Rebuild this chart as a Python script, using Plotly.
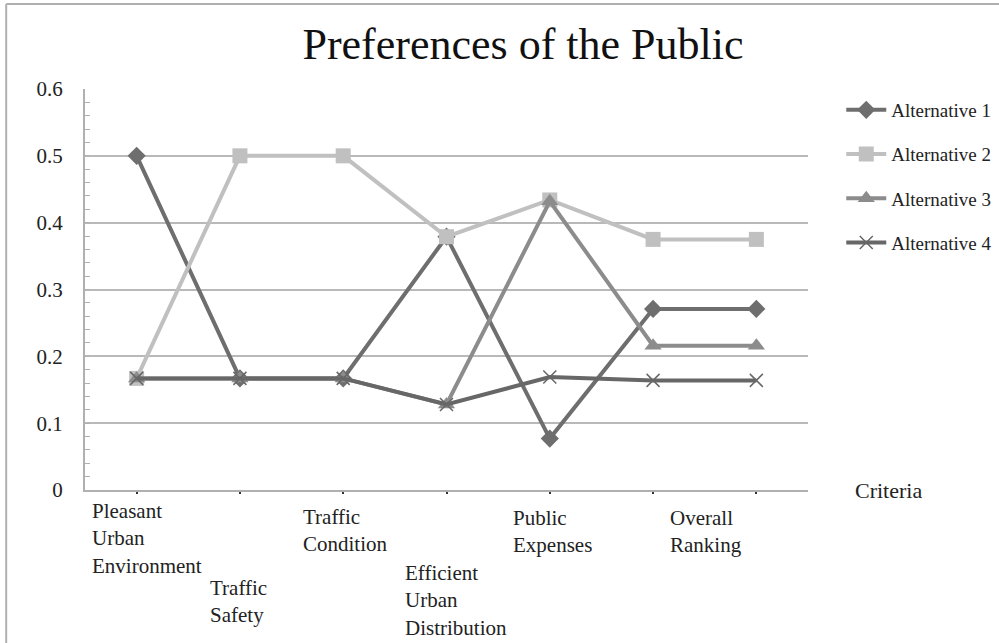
import plotly.graph_objects as go

# Criteria (x categories) and the score of each alternative per criterion
criteria = [
    "Pleasant<br>Urban<br>Environment",
    "Traffic<br>Safety",
    "Traffic<br>Condition",
    "Efficient<br>Urban<br>Distribution",
    "Public<br>Expenses",
    "Overall<br>Ranking",
    "",
]
alt1 = [0.500, 0.167, 0.167, 0.379, 0.077, 0.271, 0.271]
alt2 = [0.167, 0.500, 0.500, 0.379, 0.434, 0.375, 0.375]
alt3 = [0.167, 0.167, 0.167, 0.128, 0.432, 0.216, 0.216]
alt4 = [0.167, 0.167, 0.167, 0.128, 0.169, 0.164, 0.164]

y_ticks = [0, 0.1, 0.2, 0.3, 0.4, 0.5, 0.6]
y_tick_text = ["0", "0.1", "0.2", "0.3", "0.4", "0.5", "0.6"]

FONT = "Liberation Serif"
x_idx = list(range(len(criteria)))

series = [
    ("Alternative 1", alt1, "#6e6e6e", "diamond", 14, 0),
    ("Alternative 2", alt2, "#c0c0c0", "square", 15, 0),
    ("Alternative 3", alt3, "#8c8c8c", "triangle-up", 15, 0),
    ("Alternative 4", alt4, "#676767", "x-thin", 13, 1.5),
]

fig = go.Figure()
for i, (name, vals, color, symbol, size, lw) in enumerate(series):
    marker = dict(symbol=symbol, size=size, color=color)
    if symbol == "x-thin":
        marker["line"] = dict(color=color, width=lw)
    fig.add_trace(go.Scatter(
        x=x_idx, y=vals, name=name, mode="lines+markers",
        line=dict(color=color, width=4),
        marker=marker,
        legendgroup=f"g{i}",
    ))

# Category labels under the axis, staggered like the original layout
label_offsets = [(-47, -1), (-32, 76), (-42, 5), (-44, 61), (-39, 6), (15, 6), (0, 0)]
for i, (lab, (dx, dy)) in enumerate(zip(criteria, label_offsets)):
    if not lab:
        continue
    fig.add_annotation(
        x=i, y=0, xref="x", yref="y", text=lab, showarrow=False,
        xanchor="left", yanchor="top", align="left",
        xshift=dx, yshift=-8 - dy,
        font=dict(family=FONT, size=21, color="#222"),
    )

fig.add_annotation(
    x=(853 - 85) / 723, y=0, xref="paper", yref="y", text="Criteria", showarrow=False,
    xanchor="left", yanchor="middle",
    font=dict(family=FONT, size=22, color="#222"),
)

# Chart-area frame (top and left edges)
fig.add_shape(type="line", xref="paper", yref="paper",
              x0=-0.109, x1=1.3, y0=1.212, y1=1.212,
              line=dict(color="#b0b0b0", width=2))
fig.add_shape(type="line", xref="paper", yref="paper",
              x0=-0.109, x1=-0.109, y0=-0.4, y1=1.212,
              line=dict(color="#b0b0b0", width=2))

fig.update_layout(
    width=999, height=643,
    margin=dict(l=85, r=191, t=89, b=153, autoexpand=False),
    paper_bgcolor="white", plot_bgcolor="white",
    title=dict(text="Preferences of the Public", x=(523 - 85) / 723, xref="paper",
               xanchor="center", y=0.932, yanchor="middle",
               font=dict(family=FONT, size=44, color="#111")),
    font=dict(family=FONT, color="#222"),
    showlegend=True,
    legend=dict(
        x=1.046, y=0.995, xanchor="left", yanchor="top",
        traceorder="grouped", tracegroupgap=16.5,
        font=dict(family=FONT, size=19, color="#222"),
        bgcolor="rgba(0,0,0,0)", itemwidth=40,
    ),
    xaxis=dict(
        range=[-0.5, 6.5], showgrid=False, zeroline=False,
        tickmode="array", tickvals=x_idx, showticklabels=False,
        ticks="outside", ticklen=2, tickwidth=2, tickcolor="#333",
        showline=True, linecolor="#b0b0b0", linewidth=2,
    ),
    yaxis=dict(
        range=[0, 0.6], tickmode="array", tickvals=y_ticks, ticktext=y_tick_text,
        showgrid=True, gridcolor="#b9b9b9", gridwidth=2, zeroline=False,
        showline=True, linecolor="#b0b0b0", linewidth=2,
        ticks="inside", ticklen=5, tickcolor="#b0b0b0",
        minor=dict(dtick=0.02, ticks="inside", ticklen=5, tickcolor="#b0b0b0", showgrid=False),
        ticklabelstandoff=16,
        tickfont=dict(family=FONT, size=21, color="#222"),
    ),
)

fig.write_html("out.html")
